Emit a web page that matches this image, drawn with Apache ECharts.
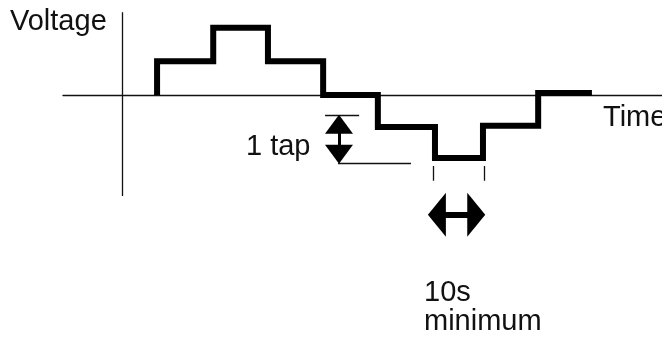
<!DOCTYPE html>
<html>
<head>
<meta charset="utf-8">
<script src="https://cdn.jsdelivr.net/npm/echarts@6/dist/echarts.min.js"></script>
<style>
html,body{margin:0;padding:0;background:#fff;}
#c{width:662px;height:341px;}
</style>
</head>
<body>
<div id="c"></div>
<script>
// Time in seconds, voltage in taps
var stepTimes  = [7.3, 19.0, 30.4, 41.9, 53.3, 65.2, 75.2, 86.7, 97.9];
var stepLevels = [0, 1.02, 2.03, 1.02, 0.0, -0.97, -1.91, -0.93, 0.06];

// Axis extents
var timeRange = [-12.3, 112.5];
var voltRange = [-7.45, 2.48];
var voltAxisSpan = [2.51, -3.06];

// "1 tap" dimension
var tapTopLine    = [[42.3, -0.605], [49.4, -0.605]];
var tapBottomLine = [[45.0, -2.06], [60.2, -2.06]];
var tapArrow      = [[45.2, -0.89], [45.2, -1.80]];

// "10s minimum" dimension
var minTicks  = [[[64.8, -2.15], [64.8, -2.60]], [[75.4, -2.15], [75.4, -2.60]]];
var minArrow  = [[65.6, -3.63], [73.8, -3.63]];

// Texts
var labelVoltage = 'Voltage';
var labelTime = 'Time';
var labelTap = '1 tap';
var labelMin1 = '10s';
var labelMin2 = 'minimum';

var wave = stepTimes.map(function (t, i) { return [t, stepLevels[i]]; });
var FONT = '29px "Liberation Sans", Arial, sans-serif';
var INK = '#111';

function txt(s, x, y) {
  return {type: 'text', x: x, y: y, silent: true,
    style: {text: s, font: FONT, fill: INK, align: 'left', verticalAlign: 'middle',
            textAlign: 'left', textVerticalAlign: 'middle'}};
}

var chart = echarts.init(document.getElementById('c'), null, {renderer: 'canvas'});
chart.setOption({
  animation: false,
  backgroundColor: '#fff',
  grid: {left: 63, right: 0, top: 13, bottom: 0},
  xAxis: {
    type: 'value', min: timeRange[0], max: timeRange[1],
    axisLine: {show: true, onZero: true, lineStyle: {color: INK, width: 1.3}},
    axisTick: {show: false}, axisLabel: {show: false}, splitLine: {show: false}
  },
  yAxis: {
    type: 'value', min: voltRange[0], max: voltRange[1],
    axisLine: {show: false}, axisTick: {show: false}, axisLabel: {show: false}, splitLine: {show: false}
  },
  series: [
    {
      type: 'lines', coordinateSystem: 'cartesian2d', silent: true,
      lineStyle: {color: INK, width: 1.3, opacity: 1},
      symbol: 'none',
      data: [
        {coords: [[0, voltAxisSpan[0]], [0, voltAxisSpan[1]]]},
        {coords: tapTopLine},
        {coords: tapBottomLine},
        {coords: minTicks[0]},
        {coords: minTicks[1]}
      ]
    },
    {
      type: 'lines', coordinateSystem: 'cartesian2d', silent: true,
      lineStyle: {color: '#000', width: 3, opacity: 1, cap: 'butt'},
      symbol: ['triangle', 'triangle'],
      symbolSize: [[28, 19], [28, 19]],
      data: [{coords: tapArrow}]
    },
    {
      type: 'lines', coordinateSystem: 'cartesian2d', silent: true,
      lineStyle: {color: '#000', width: 6, opacity: 1, cap: 'butt'},
      symbol: ['triangle', 'triangle'],
      symbolSize: [[44, 18], [44, 18]],
      data: [{coords: minArrow}]
    },
    {
      type: 'line', step: 'start', silent: true,
      data: wave, showSymbol: false, symbol: 'none',
      lineStyle: {color: '#000', width: 6, join: 'miter', cap: 'butt'}
    }
  ],
  graphic: [
    txt(labelVoltage, 10, 22),
    txt(labelTime, 603, 118),
    txt(labelTap, 246, 147),
    txt(labelMin1, 424, 293),
    txt(labelMin2, 424, 322)
  ]
});
</script>
</body>
</html>
